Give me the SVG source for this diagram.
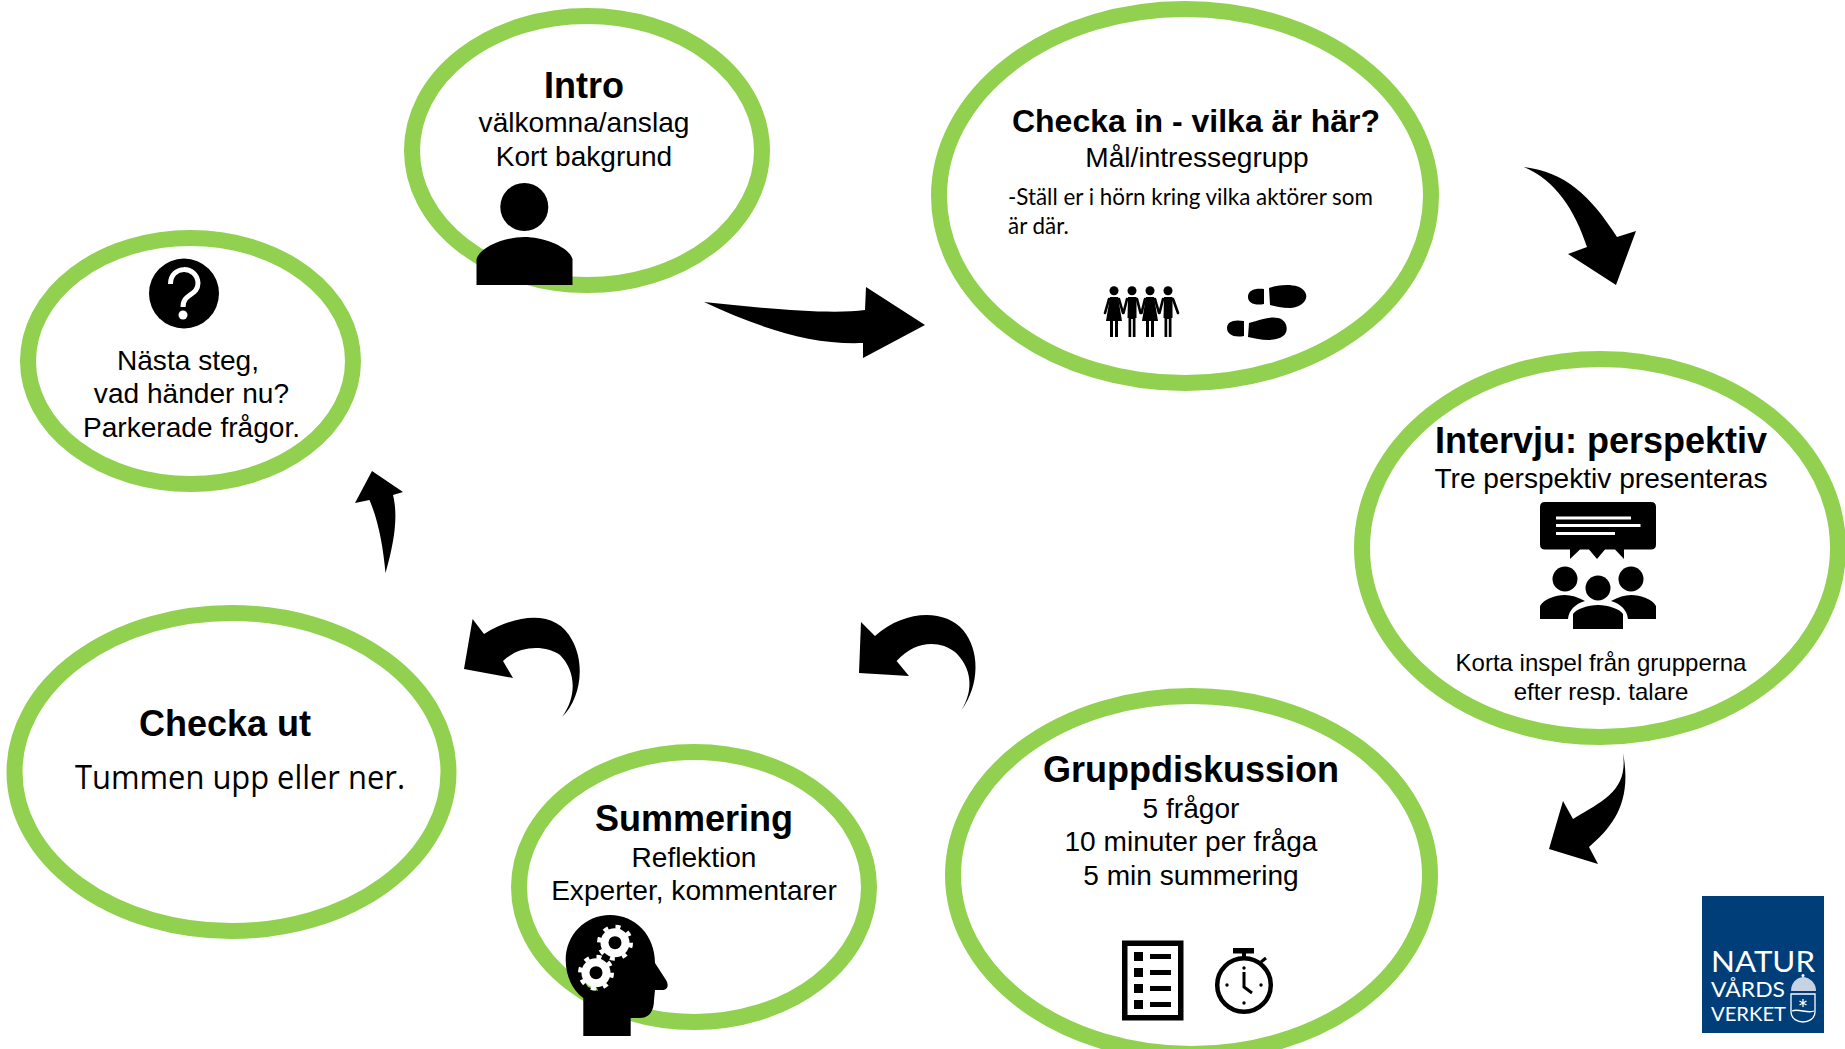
<svg xmlns="http://www.w3.org/2000/svg" width="1845" height="1049" viewBox="0 0 1845 1049">
<style>
.ring{fill:#fff;stroke:#92d050;stroke-width:16}
text{font-family:"Liberation Sans",Arial,sans-serif;fill:#000;text-anchor:middle}
.h{font-weight:bold;font-size:36px}
.b{font-size:28.100px}
.i{fill:#000}
.s{font-family:Lato,"Liberation Sans",sans-serif;font-size:22.400px;text-anchor:start}
.l{font-family:Lato,"Liberation Sans",sans-serif;fill:#fff;text-anchor:start}
.arm{stroke:#000;stroke-width:2.600;stroke-linecap:round;fill:none}
</style>
<rect width="1845" height="1049" fill="#fff"/>
<g id="connectors" class="i">
<path d="M704 302C760 308 830 315 865 310L866 287L925 325L863 358L863 343C810 345 760 328 704 302Z"/>
<path d="M1524 167C1565 172 1590 195 1617 237L1636 231L1616 285L1568 254L1587 247C1575 210 1555 180 1524 167Z"/>
<path d="M1623 753C1632 800 1615 825 1589 847L1598 864L1549 849L1563 801L1573 819C1605 800 1628 790 1623 753Z"/>
<path d="M961.500 710C980 685 980 650 963 630C945 609 905 609 875 636L861 622L859 673L909 676L896.600 661C915 640 940 640 955 652C972 668 974 690 961.500 710Z"/>
<path d="M562 717C580 700 586 665 572 640C558 612 522 611 484 634L472.600 619L464 669L513 678L503 661C520 645 545 645 560 655C575 670 578 695 562 717Z"/>
<path d="M385.500 573C395 540 398 515 393 495L403 492L372 471L355 503L369.500 500C378 520 383 545 385.500 573Z"/>
</g>
<g id="intro">
<ellipse class="ring" cx="587" cy="150.500" rx="175" ry="134.500"/>
<text class="h" x="584" y="97.500">Intro</text>
<text class="b" x="584" y="132">välkomna/anslag</text>
<text class="b" x="584" y="166">Kort bakgrund</text>
<circle class="i" cx="524.300" cy="207" r="24"/>
<path class="i" d="M476.500 285V259C480 247 505 237 524.500 237C544 237 569 247 572.500 259V285Z"/>
</g>
<g id="checka-in">
<ellipse class="ring" cx="1185" cy="196" rx="246" ry="187"/>
<text class="h" x="1196" y="132" style="font-size:32px">Checka in - vilka är här?</text>
<text class="b" x="1197" y="167">Mål/intressegrupp</text>
<text class="s" x="1008" y="205">-Ställ er i hörn kring vilka aktörer som</text>
<text class="s" x="1008" y="234">är där.</text>
<g class="i">
<circle cx="1114" cy="290.700" r="4.500"/><circle cx="1132" cy="290.700" r="4.500"/><circle cx="1150" cy="290.700" r="4.500"/><circle cx="1168" cy="290.700" r="4.500"/>
<path d="M1110 297H1118L1122 321H1118V337H1115V321H1113V337H1110V321H1106Z"/>
<path d="M1128 297H1136.500V318H1135.500V337H1132.800V319H1131.200V337H1128.500V318H1127.500Z"/>
<path d="M1146 297H1154L1158 321H1154V337H1151V321H1149V337H1146V321H1142Z"/>
<path d="M1164 297H1172.500V318H1171.500V337H1168.800V319H1167.200V337H1164.500V318H1163.500Z"/>
<path class="arm" d="M1109 299L1105 313M1119 299L1123 313M1127 299L1123.500 313M1137 299L1140.500 313M1145 299L1141.500 313M1155 299L1159 313M1163 299L1159.500 313M1173 299L1178 313"/>
<path d="M1248 297C1248 290 1255 288 1264 289V304C1255 306 1248 303 1248 297ZM1269 288C1280 284 1300 283 1305 292C1310 300 1300 308 1290 308C1282 308 1275 306 1270 305Z"/>
<path d="M1227 328C1227 322 1233 319 1244 321V336C1233 338 1227 334 1227 328ZM1249 323C1260 320 1270 316 1278 318C1288 320 1289 332 1283 336C1275 342 1260 340 1248 337Z"/>
</g>
</g>
<g id="intervju">
<ellipse class="ring" cx="1600" cy="548" rx="238" ry="189"/>
<text class="h" x="1601" y="452.500">Intervju: perspektiv</text>
<text class="b" x="1601" y="488">Tre perspektiv presenteras</text>
<text x="1601" y="671" font-size="24">Korta inspel från grupperna</text>
<text x="1601" y="700" font-size="24">efter resp. talare</text>
<g class="i">
<path d="M1545 502H1651Q1656 502 1656 507V544.500Q1656 549.500 1651 549.500H1624V559L1615 549.500H1605L1597 559L1589 549.500H1580L1570 559V549.500H1545Q1540 549.500 1540 544.500V507Q1540 502 1545 502Z"/>
<circle cx="1565" cy="579" r="12.500"/><circle cx="1631" cy="579" r="12.500"/><circle cx="1598" cy="588" r="12.500"/>
<path d="M1540 619V606C1544 599 1555 595 1565 595C1571 595 1578 597 1585 601C1575 604 1569 610 1568 619Z"/>
<path d="M1656 619V606C1652 599 1641 595 1631 595C1625 595 1618 597 1611 601C1621 604 1627 610 1628 619Z"/>
<path d="M1573 629V614C1576 609 1588 605 1598 605C1608 605 1620 609 1623 614V629Z"/>
</g>
<g fill="#fff"><rect x="1556" y="516.500" width="75" height="3"/><rect x="1556" y="524" width="84.500" height="3"/><rect x="1556" y="532" width="59" height="3"/></g>
</g>
<g id="gruppdiskussion">
<ellipse class="ring" cx="1191.500" cy="875" rx="238.500" ry="179"/>
<text class="h" x="1191" y="782">Gruppdiskussion</text>
<text class="b" x="1191" y="818">5 frågor</text>
<text class="b" x="1191" y="851">10 minuter per fråga</text>
<text class="b" x="1191" y="885">5 min summering</text>
<g>
<rect x="1124.750" y="943.250" width="56" height="74.500" fill="#fff" stroke="#000" stroke-width="5.500"/>
<g class="i">
<rect x="1134" y="952" width="9" height="9"/><rect x="1134" y="968" width="9" height="9"/><rect x="1134" y="984" width="9" height="9"/><rect x="1134" y="1000" width="9" height="9"/>
<rect x="1150" y="954" width="21" height="5"/><rect x="1150" y="970" width="21" height="5"/><rect x="1150" y="986" width="21" height="5"/><rect x="1150" y="1002" width="21" height="5"/>
<rect x="1233" y="948" width="21" height="5.500"/><rect x="1242" y="953" width="4" height="6"/>
<circle cx="1244" cy="968" r="1.700"/><circle cx="1227" cy="985" r="1.700"/><circle cx="1261" cy="985" r="1.700"/><circle cx="1244" cy="1003" r="1.700"/>
</g>
<circle cx="1244" cy="985" r="26.800" fill="none" stroke="#000" stroke-width="4.500"/>
<path d="M1244 972V987L1252 993M1261 962L1266 958" fill="none" stroke="#000" stroke-width="3"/>
</g>
</g>
<g id="summering">
<ellipse class="ring" cx="694" cy="887" rx="175" ry="135"/>
<text class="h" x="694" y="831">Summering</text>
<text class="b" x="694" y="867">Reflektion</text>
<text class="b" x="694" y="900">Experter, kommentarer</text>
<path class="i" d="M583.300 1036H630.700V1018H640C650 1018 654 1010 654 1000L655 990H662C668 990 669 985 666 980L655 963C655 935 635 915 610 915C585 915 565.700 935 565.700 960C565.700 975 572 990 583.300 998Z"/>
<path fill="#92d050" d="M584 981L597 988L598 991L588 987Z"/>
<g fill="#fff">
<circle cx="615" cy="942.700" r="14.500"/><circle cx="615" cy="942.700" r="16" fill="none" stroke="#fff" stroke-width="4" stroke-dasharray="5 7.570"/>
<circle cx="596" cy="972.700" r="14.500"/><circle cx="596" cy="972.700" r="16" fill="none" stroke="#fff" stroke-width="4" stroke-dasharray="5 7.570"/>
</g>
<circle class="i" cx="615" cy="942.700" r="6.500"/><circle class="i" cx="596" cy="972.700" r="6.500"/>
</g>
<g id="checka-ut">
<ellipse class="ring" cx="231.500" cy="772" rx="217" ry="159"/>
<text class="h" x="225" y="735.500">Checka ut</text>
<text x="240" y="789" font-size="33" style="font-family:'Open Sans','Liberation Sans',sans-serif" textLength="330" lengthAdjust="spacingAndGlyphs">Tummen upp eller ner.</text>
</g>
<g id="nasta-steg">
<ellipse class="ring" cx="190.500" cy="361" rx="162.500" ry="123"/>
<circle class="i" cx="184" cy="293.500" r="35"/>
<path d="M170.500 284C170.500 265 197 265 198 283C198 296 183 293 183 307" fill="none" stroke="#fff" stroke-width="5"/>
<circle cx="183" cy="315" r="4.500" fill="#fff"/>
<text class="b" x="188" y="370">Nästa steg,</text>
<text class="b" x="191.500" y="403">vad händer nu?</text>
<text class="b" x="191.500" y="437">Parkerade frågor.</text>
</g>
<g id="logo">
<rect x="1702" y="896" width="122" height="137" fill="#003e7a"/>
<text class="l" x="1711" y="972" font-size="28" textLength="104" lengthAdjust="spacingAndGlyphs">NATUR</text>
<text class="l" x="1711" y="997" font-size="22" textLength="74" lengthAdjust="spacingAndGlyphs">VÅRDS</text>
<text class="l" x="1711" y="1021" font-size="20" textLength="75" lengthAdjust="spacingAndGlyphs">VERKET</text>
<path d="M1791 991C1791 980 1800 977 1803 977C1806 977 1816 980 1816 991Z" fill="#c5d3e2"/>
<circle cx="1803" cy="975.500" r="1.500" fill="#fff"/>
<path d="M1791 994H1815V1012C1815 1019 1808 1022 1803 1022C1798 1022 1791 1019 1791 1012Z" fill="none" stroke="#fff" stroke-width="1.300"/>
<path d="M1792 1011C1798 1008 1808 1014 1814 1011" fill="none" stroke="#fff" stroke-width="1.300"/>
<path d="M1803 999V1007M1799.500 1001L1806.500 1005M1806.500 1001L1799.500 1005" stroke="#fff" stroke-width="1.300"/>
</g>
</svg>
